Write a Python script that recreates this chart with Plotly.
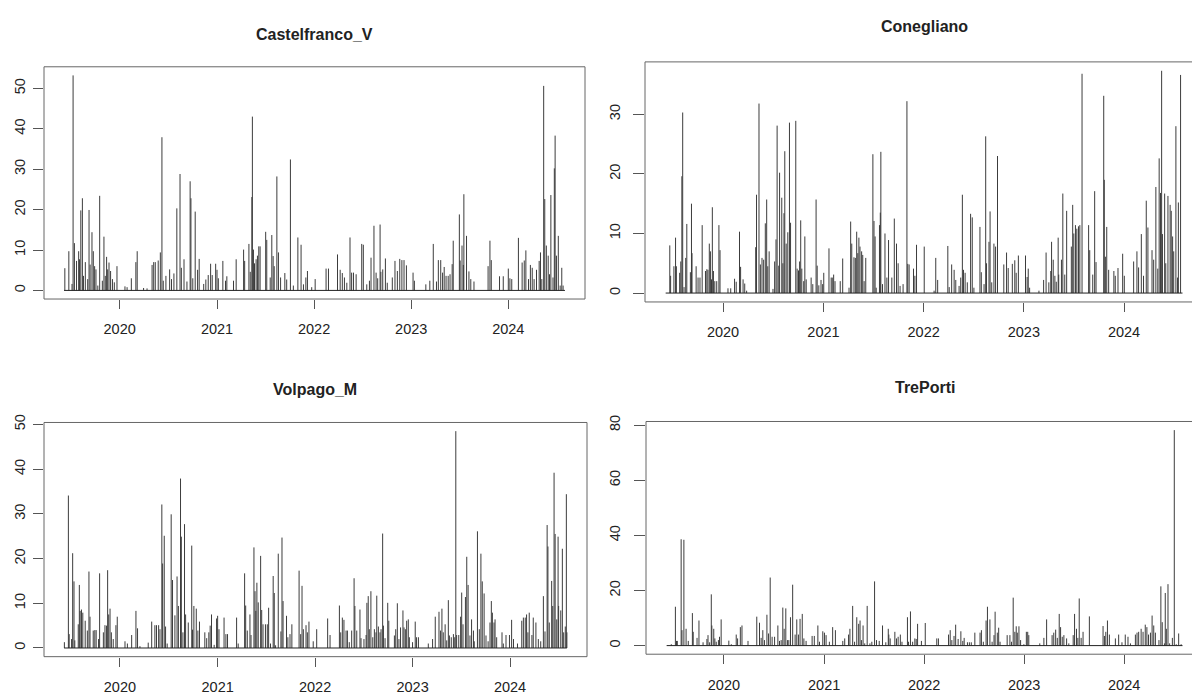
import numpy as np
import pandas as pd
import plotly.graph_objects as go

# ---------------- data (days since START, daily value) ----------------
START = "2019-06-06"
N_DAYS = 1884

castel_day = [3, 18, 30, 34, 39, 47, 55, 58, 63, 69, 73, 80, 89, 94, 98, 105, 110, 115, 120, 127, 134, 144, 150, 155, 160, 164, 169, 175, 182, 189, 199, 229, 237, 253, 270, 275, 299, 312, 331, 337, 343, 354, 362, 368, 373, 383, 397, 404, 413, 424, 436, 441, 451, 462, 474, 477, 484, 493, 502, 508, 525, 533, 542, 551, 557, 570, 575, 580, 597, 607, 612, 637, 647, 675, 679, 695, 700, 706, 708, 712, 716, 722, 727, 732, 737, 758, 762, 775, 781, 786, 790, 800, 806, 814, 830, 837, 851, 862, 879, 891, 900, 909, 915, 931, 944, 985, 994, 1028, 1038, 1046, 1054, 1063, 1075, 1081, 1088, 1098, 1119, 1125, 1138, 1148, 1154, 1165, 1173, 1179, 1188, 1191, 1198, 1208, 1215, 1234, 1244, 1253, 1262, 1270, 1278, 1287, 1312, 1317, 1360, 1375, 1388, 1400, 1407, 1416, 1423, 1429, 1436, 1444, 1451, 1459, 1463, 1486, 1489, 1496, 1501, 1503, 1513, 1522, 1529, 1541, 1594, 1601, 1606, 1637, 1651, 1670, 1676, 1683, 1708, 1722, 1730, 1736, 1746, 1753, 1760, 1767, 1776, 1786, 1791, 1796, 1803, 1807, 1813, 1820, 1825, 1830, 1838, 1843, 1846, 1851, 1858, 1865, 1871, 1876]
castel_mm = [5.5, 9.7, 1.6, 53.2, 11.7, 7.3, 9.7, 7.7, 19.8, 22.8, 3.6, 7.0, 2.8, 19.9, 6.4, 14.4, 9.7, 6.0, 5.2, 1.2, 23.4, 2.4, 13.3, 3.6, 8.3, 5.2, 6.9, 4.8, 2.8, 2.0, 6.0, 1.0, 0.8, 3.0, 7.0, 9.7, 0.6, 0.5, 6.3, 7.0, 7.0, 7.4, 9.4, 37.9, 2.4, 3.6, 5.2, 2.8, 4.2, 20.3, 28.8, 5.6, 7.7, 2.2, 27.0, 22.8, 3.0, 19.5, 5.1, 7.8, 1.6, 2.7, 3.8, 6.6, 3.8, 6.6, 5.1, 3.0, 7.3, 2.4, 3.5, 2.4, 7.7, 10.1, 7.3, 11.5, 4.6, 23.1, 43.0, 10.1, 6.7, 7.7, 8.6, 10.9, 10.9, 14.5, 12.5, 3.2, 13.7, 8.5, 6.0, 28.2, 9.4, 3.2, 4.3, 2.7, 32.4, 1.2, 13.1, 11.3, 1.5, 3.2, 4.8, 0.8, 2.8, 5.4, 5.4, 8.9, 5.1, 4.3, 3.2, 1.9, 13.1, 4.4, 4.4, 4.0, 11.5, 11.3, 1.5, 2.4, 8.1, 16.0, 4.4, 3.0, 16.3, 4.6, 5.2, 7.9, 1.9, 3.2, 7.3, 4.8, 7.8, 7.5, 7.5, 6.2, 4.4, 2.4, 1.5, 2.4, 11.5, 2.2, 7.5, 7.5, 4.4, 5.8, 3.6, 3.6, 4.0, 6.5, 12.3, 18.8, 7.4, 11.1, 6.3, 23.8, 13.5, 4.7, 2.8, 2.2, 6.0, 12.3, 7.5, 3.5, 3.5, 5.4, 3.0, 2.8, 13.0, 6.9, 7.4, 9.9, 2.8, 6.3, 5.6, 2.8, 5.1, 7.3, 9.4, 2.8, 50.6, 22.6, 11.1, 8.6, 4.0, 23.6, 3.2, 30.2, 38.3, 8.6, 13.5, 1.2, 5.6, 1.2]

coneg_day = [15, 18, 30, 36, 39, 51, 55, 59, 62, 67, 73, 77, 90, 94, 96, 111, 118, 125, 133, 145, 150, 154, 159, 163, 167, 170, 174, 179, 186, 194, 198, 227, 237, 251, 257, 269, 273, 282, 288, 295, 328, 331, 340, 345, 351, 357, 363, 368, 372, 377, 391, 397, 402, 406, 412, 415, 423, 427, 431, 434, 439, 445, 451, 455, 474, 479, 484, 488, 492, 496, 503, 507, 512, 530, 536, 548, 552, 558, 566, 572, 576, 595, 603, 607, 612, 617, 636, 645, 668, 674, 678, 686, 691, 696, 700, 704, 708, 714, 718, 723, 729, 755, 759, 763, 767, 779, 782, 784, 790, 799, 806, 812, 824, 833, 841, 847, 854, 865, 879, 882, 887, 903, 908, 914, 942, 978, 984, 991, 1028, 1033, 1042, 1051, 1057, 1069, 1075, 1081, 1085, 1091, 1099, 1111, 1117, 1123, 1145, 1150, 1160, 1166, 1169, 1178, 1182, 1188, 1196, 1202, 1209, 1232, 1242, 1248, 1263, 1272, 1277, 1285, 1311, 1317, 1321, 1326, 1360, 1377, 1386, 1396, 1403, 1406, 1412, 1418, 1423, 1430, 1432, 1442, 1447, 1454, 1461, 1478, 1483, 1487, 1493, 1498, 1504, 1509, 1517, 1541, 1545, 1556, 1563, 1568, 1596, 1598, 1602, 1607, 1614, 1633, 1638, 1648, 1665, 1671, 1705, 1717, 1723, 1733, 1741, 1751, 1757, 1772, 1778, 1786, 1793, 1798, 1803, 1807, 1810, 1818, 1822, 1830, 1838, 1842, 1847, 1851, 1859, 1865, 1868, 1876]
coneg_mm = [8.0, 2.9, 4.5, 9.3, 4.5, 3.4, 5.3, 19.6, 30.3, 1.0, 5.9, 11.6, 3.5, 15.0, 6.7, 4.5, 2.6, 2.6, 11.4, 3.7, 4.0, 3.9, 8.3, 7.0, 2.3, 14.4, 3.7, 2.0, 2.0, 11.4, 7.2, 0.8, 0.8, 2.4, 1.9, 10.3, 4.4, 2.3, 1.6, 0.4, 7.7, 16.5, 31.8, 4.8, 5.9, 5.6, 11.7, 15.7, 4.5, 7.0, 0.7, 5.3, 9.0, 28.1, 4.6, 20.2, 16.0, 5.0, 13.4, 23.8, 8.3, 10.2, 28.6, 11.8, 28.9, 4.1, 3.8, 5.3, 12.2, 4.1, 2.0, 9.5, 2.3, 2.6, 1.5, 15.7, 4.6, 1.3, 2.2, 1.5, 3.4, 7.5, 2.6, 2.6, 3.1, 2.0, 2.0, 5.8, 0.9, 12.0, 8.3, 6.0, 5.9, 10.3, 6.7, 9.3, 7.8, 7.0, 6.4, 2.0, 5.9, 23.3, 12.1, 9.5, 0.9, 11.4, 13.5, 23.7, 1.5, 10.0, 2.6, 8.9, 2.6, 12.5, 8.3, 5.0, 1.2, 1.5, 32.2, 4.9, 4.8, 4.1, 2.9, 8.1, 7.8, 0.4, 5.9, 2.2, 7.9, 1.0, 4.8, 3.9, 2.2, 1.2, 2.6, 16.5, 3.9, 3.4, 1.8, 13.3, 12.7, 0.9, 11.1, 3.5, 1.5, 26.3, 5.0, 8.6, 13.7, 1.8, 8.3, 7.8, 23.0, 4.8, 6.8, 4.2, 4.9, 5.5, 3.4, 6.3, 6.3, 2.7, 4.1, 0.9, 0.4, 2.2, 6.8, 1.8, 3.7, 8.6, 5.6, 2.9, 1.9, 9.3, 3.1, 5.6, 16.7, 3.1, 13.8, 7.8, 14.8, 10.0, 11.4, 10.8, 11.2, 11.4, 36.8, 11.4, 7.2, 3.1, 17.1, 5.2, 33.1, 19.0, 6.1, 11.1, 3.9, 3.7, 2.9, 4.2, 6.6, 2.9, 5.3, 7.0, 4.3, 9.9, 2.9, 15.5, 11.0, 7.2, 5.6, 17.8, 4.1, 22.6, 16.8, 37.3, 9.9, 16.7, 5.0, 16.3, 14.8, 13.8, 9.5, 7.0, 28.0, 2.6, 15.2, 36.6]

volpago_day = [1, 16, 19, 28, 32, 37, 40, 53, 57, 60, 65, 70, 79, 87, 93, 97, 109, 115, 120, 129, 133, 147, 153, 159, 163, 167, 172, 177, 184, 194, 199, 228, 237, 253, 269, 275, 284, 315, 328, 340, 346, 354, 359, 366, 369, 375, 380, 386, 401, 406, 415, 423, 428, 436, 439, 445, 451, 455, 465, 478, 481, 486, 495, 501, 507, 527, 534, 542, 547, 552, 562, 571, 575, 580, 599, 606, 612, 646, 652, 676, 680, 686, 696, 700, 711, 715, 718, 722, 727, 736, 740, 745, 754, 761, 766, 773, 783, 787, 792, 802, 812, 816, 820, 833, 838, 846, 853, 880, 886, 891, 896, 906, 911, 917, 933, 946, 987, 996, 1031, 1036, 1042, 1048, 1056, 1061, 1068, 1077, 1086, 1089, 1096, 1108, 1112, 1123, 1131, 1134, 1139, 1143, 1149, 1156, 1162, 1168, 1171, 1177, 1183, 1187, 1193, 1196, 1202, 1212, 1216, 1237, 1242, 1248, 1254, 1260, 1269, 1273, 1278, 1283, 1289, 1293, 1305, 1315, 1320, 1327, 1364, 1380, 1390, 1404, 1410, 1415, 1420, 1427, 1433, 1439, 1443, 1450, 1458, 1463, 1467, 1470, 1478, 1485, 1489, 1494, 1503, 1508, 1513, 1520, 1526, 1533, 1536, 1548, 1555, 1561, 1566, 1573, 1580, 1588, 1595, 1600, 1604, 1610, 1614, 1620, 1640, 1645, 1655, 1668, 1676, 1683, 1698, 1714, 1720, 1727, 1732, 1737, 1742, 1752, 1757, 1767, 1776, 1785, 1795, 1801, 1809, 1812, 1817, 1826, 1830, 1835, 1839, 1845, 1850, 1852, 1860, 1866, 1871, 1877, 1881, 1883]
volpago_mm = [1.3, 34.1, 3.1, 2.0, 21.2, 14.9, 1.7, 5.3, 14.1, 8.3, 8.6, 7.9, 6.1, 3.9, 17.1, 7.0, 3.9, 4.0, 4.0, 2.0, 16.7, 3.5, 5.1, 5.0, 17.4, 7.5, 8.8, 3.5, 2.0, 5.1, 7.0, 1.5, 1.0, 2.9, 8.3, 4.4, 0.4, 1.2, 5.9, 5.1, 5.1, 5.1, 4.2, 32.1, 18.9, 25.1, 4.8, 1.0, 29.9, 15.2, 7.3, 16.0, 9.4, 37.9, 24.9, 3.5, 27.7, 7.5, 5.7, 22.9, 4.1, 9.4, 8.8, 3.9, 5.9, 3.5, 2.2, 3.5, 5.0, 7.5, 0.7, 6.6, 7.2, 4.2, 6.8, 3.1, 3.1, 6.8, 1.0, 16.7, 9.5, 3.9, 7.5, 2.9, 22.5, 12.7, 8.3, 14.6, 10.2, 20.6, 8.5, 5.3, 5.3, 5.3, 9.0, 1.0, 16.1, 12.3, 0.6, 21.1, 3.7, 24.7, 10.5, 7.2, 2.4, 3.1, 5.3, 17.3, 3.1, 13.9, 4.2, 5.1, 3.5, 5.9, 1.5, 4.2, 6.6, 2.9, 9.5, 3.5, 6.8, 6.3, 3.9, 3.9, 1.3, 3.9, 15.6, 9.4, 3.9, 8.6, 2.2, 2.0, 2.9, 10.1, 11.6, 4.2, 12.7, 2.4, 4.2, 3.5, 11.7, 4.8, 3.5, 4.2, 25.6, 5.0, 2.2, 10.1, 6.1, 2.8, 4.2, 10.0, 2.0, 4.6, 8.4, 4.6, 4.2, 6.1, 6.4, 2.4, 1.3, 5.9, 2.4, 2.4, 1.0, 2.0, 7.0, 8.1, 3.9, 8.8, 3.5, 5.3, 1.7, 10.7, 2.8, 2.4, 3.1, 2.4, 48.5, 2.9, 2.9, 7.0, 12.4, 5.3, 11.4, 20.4, 14.1, 2.8, 6.4, 3.9, 1.5, 26.1, 4.2, 21.1, 14.9, 12.2, 2.8, 1.5, 5.7, 10.5, 7.9, 5.7, 6.4, 2.4, 3.5, 1.0, 2.9, 2.9, 6.3, 2.0, 1.0, 6.1, 6.8, 6.8, 7.5, 3.5, 7.9, 2.9, 6.8, 5.7, 2.0, 1.5, 11.6, 3.7, 27.5, 22.7, 5.7, 15.0, 9.4, 39.2, 25.5, 6.4, 24.9, 9.4, 8.4, 22.2, 3.5, 4.8, 34.4, 3.5]

treporti_day = [17, 32, 36, 39, 53, 56, 63, 71, 79, 94, 97, 111, 118, 133, 147, 151, 157, 163, 165, 172, 176, 181, 189, 193, 199, 227, 236, 254, 259, 269, 275, 297, 329, 339, 345, 351, 357, 366, 372, 378, 385, 394, 406, 412, 418, 424, 429, 435, 441, 446, 452, 460, 469, 475, 481, 487, 495, 501, 509, 531, 539, 552, 558, 570, 576, 582, 594, 606, 616, 643, 650, 664, 669, 679, 686, 694, 701, 706, 711, 717, 723, 732, 742, 749, 759, 766, 776, 788, 800, 809, 811, 816, 833, 839, 845, 853, 859, 879, 883, 890, 898, 906, 911, 916, 930, 944, 986, 992, 1029, 1035, 1041, 1049, 1055, 1064, 1074, 1081, 1086, 1098, 1105, 1112, 1125, 1144, 1149, 1156, 1166, 1171, 1180, 1188, 1195, 1199, 1207, 1212, 1217, 1243, 1253, 1259, 1265, 1271, 1276, 1280, 1286, 1292, 1304, 1313, 1318, 1322, 1362, 1377, 1387, 1407, 1413, 1420, 1426, 1433, 1438, 1444, 1450, 1460, 1468, 1484, 1489, 1496, 1501, 1506, 1513, 1520, 1543, 1593, 1598, 1603, 1609, 1616, 1638, 1650, 1662, 1674, 1684, 1693, 1711, 1717, 1723, 1732, 1739, 1747, 1753, 1759, 1766, 1772, 1778, 1784, 1797, 1804, 1809, 1817, 1820, 1824, 1830, 1836, 1846, 1853, 1860, 1869, 1878]
treporti_mm = [0.5, 14.1, 1.7, 1.7, 38.6, 5.6, 38.4, 6.1, 1.7, 11.8, 5.0, 2.8, 9.1, 1.2, 2.4, 3.8, 1.2, 18.6, 7.3, 6.1, 2.6, 1.4, 2.0, 3.2, 9.5, 1.8, 0.5, 4.0, 2.6, 6.7, 7.3, 1.7, 10.5, 8.3, 2.8, 5.6, 2.0, 11.2, 4.4, 24.7, 3.2, 3.2, 7.3, 1.7, 2.0, 13.8, 6.1, 13.5, 2.0, 2.0, 10.3, 22.1, 4.0, 9.5, 4.0, 9.7, 11.5, 2.6, 1.7, 3.5, 3.5, 7.3, 1.4, 5.2, 4.7, 3.8, 1.4, 6.7, 5.6, 1.7, 2.6, 4.0, 6.1, 14.4, 1.4, 10.3, 7.9, 9.1, 2.0, 7.3, 0.8, 14.4, 0.8, 1.4, 23.3, 2.0, 1.7, 7.3, 1.2, 6.1, 4.0, 2.6, 5.0, 2.6, 3.2, 4.0, 1.4, 10.3, 1.4, 12.4, 1.4, 2.6, 2.4, 7.9, 1.7, 8.2, 2.6, 2.6, 4.0, 5.6, 2.0, 3.5, 7.6, 2.4, 5.2, 1.7, 2.8, 1.2, 1.2, 1.2, 4.7, 4.7, 5.6, 1.4, 9.1, 14.1, 9.5, 1.4, 3.8, 12.3, 4.7, 6.5, 1.4, 3.8, 3.8, 1.4, 17.4, 5.0, 7.0, 4.7, 7.0, 2.0, 0.5, 5.0, 5.0, 3.8, 0.8, 2.8, 9.5, 3.8, 4.7, 5.8, 2.8, 11.5, 6.7, 3.2, 3.8, 2.6, 0.8, 3.8, 11.5, 6.1, 2.8, 17.1, 2.8, 5.0, 10.6, 7.1, 3.5, 5.0, 9.1, 4.0, 2.6, 4.0, 1.2, 4.0, 3.2, 0.8, 4.0, 4.7, 5.0, 6.1, 5.0, 7.6, 6.7, 4.0, 4.7, 10.9, 7.3, 4.7, 2.0, 21.5, 8.5, 0.8, 19.1, 6.1, 22.3, 0.8, 2.8, 78.2, 0.5, 4.4, 0.5]

station_names = ["Castelfranco_V", "Conegliano", "Volpago_M", "TrePorti"]
year_tick_dates = ["2020-01-01", "2021-01-01", "2022-01-01", "2023-01-01", "2024-01-01"]
year_tick_labels = ["2020", "2021", "2022", "2023", "2024"]
y_tick_values = [[0, 10, 20, 30, 40, 50], [0, 10, 20, 30], [0, 10, 20, 30, 40, 50], [0, 20, 40, 60, 80]]

# ---------------- layout geometry (pixels) ----------------
W, H = 1192, 695
FONT = "Liberation Sans, Arial, sans-serif"
# (left, right, top, bottom, title_x, title_y, right_clip_fraction, y_standoff, y_ticklen)
geom = [
    (44, 585, 60, 297, 314, 27, 1.0, 2, 10),
    (645, 1192, 55, 300, 924, 19, 0.98, 7, 11),
    (44, 587, 423, 662, 315, 389, 1.0, 2, 10),
    (646, 1192, 422, 659.5, 925, 387, 0.98, 8, 11),
]

series = [(castel_day, castel_mm), (coneg_day, coneg_mm),
          (volpago_day, volpago_mm), (treporti_day, treporti_mm)]

start = pd.Timestamp(START)
end = start + pd.Timedelta(days=N_DAYS - 1)
span = N_DAYS - 1
pad = 0.04 * span

fig = go.Figure()
annotations = []
shapes = []

for i, ((days, vals), g, name, yt) in enumerate(zip(series, geom, station_names, y_tick_values)):
    left, right, top, bottom, tx, ty, clip, ystand, yticklen = g
    arr = np.zeros(N_DAYS)
    for d, v in zip(days, vals):
        d = min(max(int(d), 0), N_DAYS - 1)
        arr[d] = max(arr[d], v)
    idx = np.nonzero(arr)[0]
    dts = start + pd.to_timedelta(idx, unit="D")
    xs, ys = [], []
    for t, v in zip(dts, arr[idx]):
        xs += [t, t, None]
        ys += [0, v, None]
    ax = "" if i == 0 else str(i + 1)
    fig.add_trace(go.Scatter(x=xs, y=ys, mode="lines", line=dict(color="#3c3c3c", width=1),
                             xaxis="x" + ax, yaxis="y" + ax, hoverinfo="skip"))
    fig.add_trace(go.Scatter(x=[start, end], y=[0, 0], mode="lines",
                             line=dict(color="#222", width=1),
                             xaxis="x" + ax, yaxis="y" + ax, hoverinfo="skip"))

    full_lo = -pad
    full_hi = span + pad
    vis_hi = full_lo + clip * (full_hi - full_lo)
    x_lo = start + pd.Timedelta(days=full_lo)
    x_hi = start + pd.Timedelta(days=vis_hi)
    ymax = float(arr.max())
    y_lo, y_hi = -0.04 * ymax, ymax * 1.04

    xd = [left / W, right / W]
    yd = [1 - bottom / H, 1 - top / H]
    fig.layout["xaxis" + ax] = dict(
        domain=xd, anchor="y" + ax, type="date", range=[x_lo, x_hi],
        tickmode="array", tickvals=year_tick_dates, ticktext=year_tick_labels,
        ticks="outside", ticklen=9, tickwidth=1, tickcolor="#555",
        showgrid=False, zeroline=False, showline=False,
        tickfont=dict(family=FONT, size=14.5, color="#222"), ticklabelstandoff=8,
        fixedrange=True)
    fig.layout["yaxis" + ax] = dict(
        domain=yd, anchor="x" + ax, range=[y_lo, y_hi],
        tickmode="array", tickvals=yt, ticktext=[str(v) for v in yt],
        tickangle=-90, ticks="outside", ticklen=yticklen, tickwidth=1, tickcolor="#555",
        showgrid=False, zeroline=False, showline=False,
        tickfont=dict(family=FONT, size=14.5, color="#222"), ticklabelstandoff=ystand,
        fixedrange=True)
    shapes.append(dict(type="rect", xref="x" + ax + " domain", yref="y" + ax + " domain",
                       x0=0, x1=1.0 / clip, y0=0, y1=1,
                       line=dict(color="#666", width=1), fillcolor="rgba(0,0,0,0)",
                       layer="above"))
    annotations.append(dict(text="<b>" + name + "</b>", xref="paper", yref="paper",
                            x=tx / W, y=1 - ty / H, xanchor="center", yanchor="middle",
                            showarrow=False, font=dict(family=FONT, size=16, color="#222")))

fig.update_layout(width=W, height=H, margin=dict(l=0, r=0, t=0, b=0),
                  paper_bgcolor="white", plot_bgcolor="white", showlegend=False,
                  annotations=annotations, shapes=shapes)

fig.write_html("out.html", config={"displayModeBar": False})
